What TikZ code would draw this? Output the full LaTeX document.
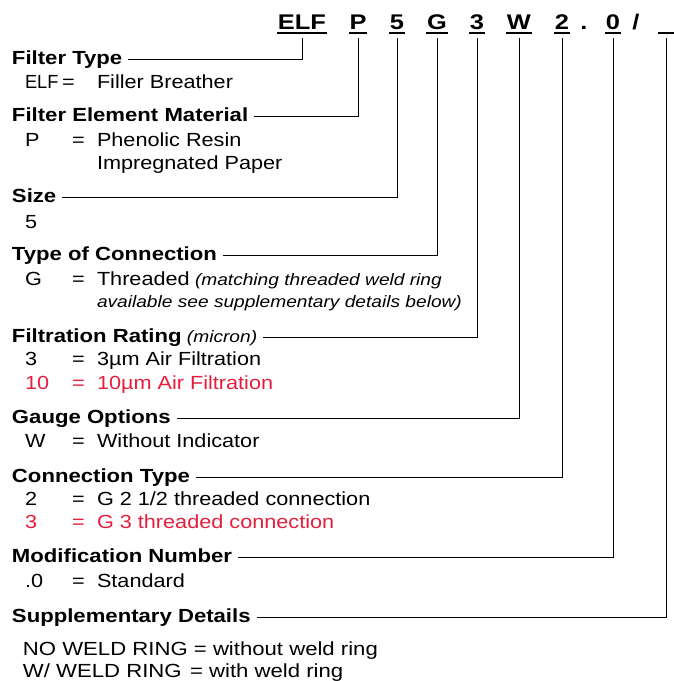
\documentclass[tikz,border=0pt]{standalone}
\usepackage{fontspec}
\setmainfont{Liberation Sans}
\definecolor{codered}{RGB}{228,30,60}
\newcommand\hx[1]{\scalebox{1.165}[1]{#1}}
\newcommand\sx[1]{\scalebox{1.14}[1]{#1}}
\newcommand\wx[1]{\scalebox{1.165}[1]{#1}}
\newcommand\nx[1]{\scalebox{1.16}[1]{#1}}
\newcommand\cx[1]{\scalebox{1.2}[1]{#1}}
\begin{document}
\begin{tikzpicture}[x=1pt,y=1pt,
  every node/.style={inner sep=0pt, outer sep=0pt},
  head/.style={anchor=base west, font=\fontsize{19}{22}\selectfont\bfseries},
  item/.style={anchor=base west, font=\fontsize{19}{22}\selectfont},
  note/.style={anchor=base west, font=\fontsize{16.5}{19}\selectfont\itshape},
  code/.style={anchor=base, font=\fontsize{21.2}{25}\selectfont\bfseries},
  conn/.style={line width=0.9pt, black},
  uline/.style={line width=1.3pt}]
\useasboundingbox (0,0) rectangle (673,-681);
% code letters
\node[code] (c1) at (302,-29) {\cx{ELF}};
\node[code] (c2) at (358,-29) {\cx{P}};
\node[code] (c3) at (397,-29) {\cx{5}};
\node[code] (c4) at (437,-29) {\cx{G}};
\node[code] (c5) at (477,-29) {\cx{3}};
\node[code] (c6) at (519,-29) {\cx{W}};
\node[code] (c7) at (562,-29) {\cx{2}};
\node[code] (c8) at (584,-29) {\cx{.}};
\node[code] (c9) at (613,-29) {\cx{0}};
\node[code] (c10) at (636,-29) {\cx{/}};
\node[code] (c11) at (666,-29) {\cx{\phantom{0}}};
\foreach \n in {c1,c2,c3,c4,c5,c6,c7,c9,c11}
  \draw[uline] ([xshift=-1pt,yshift=-4pt]\n.base west) -- ([xshift=1pt,yshift=-4pt]\n.base east);
% headings
\node[head] (h1) at (12,-64) {\hx{Filter Type}};
\node[head] (h2) at (12,-121) {\hx{Filter Element Material}};
\node[head] (h3) at (12,-202) {\hx{Size}};
\node[head] (h4) at (12,-260) {\hx{Type of Connection}};
\node[head] (h5) at (12,-342) {\hx{Filtration Rating}\ \nx{\fontsize{16.5}{19}\selectfont\mdseries\itshape (micron)}};
\node[head] (h6) at (12,-423) {\hx{Gauge Options}};
\node[head] (h7) at (12,-482) {\hx{Connection Type}};
\node[head] (h8) at (12,-562) {\hx{Modification Number}};
\node[head] (h9) at (12,-622) {\hx{Supplementary Details}};
% connectors
\draw[conn] ([yshift=-9pt]c1.base) |- ([xshift=6pt,yshift=5pt]h1.base east);
\draw[conn] ([yshift=-9pt]c2.base) |- ([xshift=6pt,yshift=5pt]h2.base east);
\draw[conn] ([yshift=-9pt]c3.base) |- ([xshift=6pt,yshift=5pt]h3.base east);
\draw[conn] ([yshift=-9pt]c4.base) |- ([xshift=6pt,yshift=5pt]h4.base east);
\draw[conn] ([yshift=-9pt]c5.base) |- ([xshift=6pt,yshift=5pt]h5.base east);
\draw[conn] ([yshift=-9pt]c6.base) |- ([xshift=6pt,yshift=5pt]h6.base east);
\draw[conn] ([yshift=-9pt]c7.base) |- ([xshift=6pt,yshift=5pt]h7.base east);
\draw[conn] ([yshift=-9pt]c9.base) |- ([xshift=6pt,yshift=5pt]h8.base east);
\draw[conn] ([yshift=-9pt]c11.base) |- ([xshift=6pt,yshift=5pt]h9.base east);
% items
\node[item] (i1a) at (25,-88) {\scalebox{0.96}[1]{ELF}};
\node[item] (i1b) at (62,-88) {\sx{=}};
\node[item] (i1c) at (97,-88) {\sx{Filler Breather}};
\node[item] (i2a) at (25,-146) {\sx{P}};
\node[item] (i2b) at (72,-146) {\sx{=}};
\node[item] (i2c) at (97,-146) {\sx{Phenolic Resin}};
\node[item] (i2d) at (97,-169) {\sx{Impregnated Paper}};
\node[item] (i3a) at (25,-228) {\sx{5}};
\node[item] (i4a) at (25,-285) {\sx{G}};
\node[item] (i4b) at (72,-285) {\sx{=}};
\node[item] (i4c) at (97,-285) {\sx{Threaded}};
\node[note] (i4d) at (195,-285) {\nx{(matching threaded weld ring}};
\node[note] (i4e) at (97,-307) {\nx{available see supplementary details below)}};
\node[item] (i5a) at (25,-365) {\sx{3}};
\node[item] (i5b) at (72,-365) {\sx{=}};
\node[item] (i5c) at (97,-365) {\sx{3µm Air Filtration}};
\node[item, text=codered] (i6a) at (25,-389) {\sx{10}};
\node[item, text=codered] (i6b) at (72,-389) {\sx{=}};
\node[item, text=codered] (i6c) at (97,-389) {\sx{10µm Air Filtration}};
\node[item] (i7a) at (25,-447) {\sx{W}};
\node[item] (i7b) at (72,-447) {\sx{=}};
\node[item] (i7c) at (97,-447) {\sx{Without Indicator}};
\node[item] (i8a) at (25,-505) {\sx{2}};
\node[item] (i8b) at (72,-505) {\sx{=}};
\node[item] (i8c) at (97,-505) {\sx{G 2 1/2 threaded connection}};
\node[item, text=codered] (i9a) at (25,-528) {\sx{3}};
\node[item, text=codered] (i9b) at (72,-528) {\sx{=}};
\node[item, text=codered] (i9c) at (97,-528) {\sx{G 3 threaded connection}};
\node[item] (i10a) at (25,-587) {\sx{.0}};
\node[item] (i10b) at (72,-587) {\sx{=}};
\node[item] (i10c) at (97,-587) {\sx{Standard}};
\node[item] (i11) at (23,-655) {\wx{NO WELD RING = without weld ring}};
\node[item] (i12) at (23,-677) {\wx{W/ WELD RING\hspace{2pt} = with weld ring}};
\end{tikzpicture}
\end{document}
